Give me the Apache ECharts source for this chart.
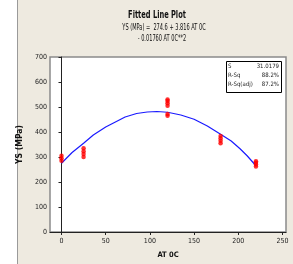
<!DOCTYPE html>
<html>
<head>
<meta charset="utf-8">
<script src="https://cdn.jsdelivr.net/npm/echarts@6/dist/echarts.min.js"></script>
<style>
  html, body { margin: 0; padding: 0; background: #fff; }
  #chart { width: 293px; height: 264px; }
</style>
</head>
<body>
<div id="chart"></div>
<script>
// observed points (AT 0C, YS MPa)
const obsX = [0, 0, 0, 25, 25, 25, 25, 120, 120, 120, 120, 120, 120, 180, 180, 180, 180, 220, 220, 220, 220];
const obsY = [285, 295, 305, 300, 312, 323, 335, 505, 515, 524, 530, 465, 472, 355, 365, 375, 384, 262, 270, 277, 283];

// fitted line
const fitX = [0, 12, 25, 36, 50, 72, 85, 97, 108, 120, 135, 150, 165, 180, 192, 202, 210, 220];
const fitY = [275, 318, 355, 388, 420, 460, 474, 480, 482, 479, 468, 451, 424, 391, 364, 333, 305, 265];

const xTicks = [0, 50, 100, 150, 200, 250];
const titleLines = ["Fitted Line Plot", "YS (MPa) =  274.6 + 3.816 AT 0C", "- 0.01760 AT 0C**2"];
const statLabels = ["S", "R-Sq", "R-Sq(adj)"];
const statValues = ["31.0179", "88.2%", "87.2%"];

const font = "'Liberation Sans Narrow', 'DejaVu Sans Condensed', sans-serif";
const chart = echarts.init(document.getElementById("chart"));

const statText = [];
statLabels.forEach((s, i) => {
  statText.push({ type: "text", left: 228, top: 63 + i * 9, z: 11,
    style: { text: s, font: "6px " + font, fill: "#222" } });
  statText.push({ type: "text", right: 14, top: 63 + i * 9, z: 11,
    style: { text: statValues[i], font: "6px " + font, fill: "#222", align: "right" } });
});

// title block, squeezed sideways to look like the narrow original font
const titleText = [
  { type: "text", x: 157, y: 15, scaleX: 0.74,
    style: { text: titleLines[0], font: "bold 10px " + font, fill: "#111", align: "center", verticalAlign: "middle" } },
  { type: "text", x: 164, y: 28, scaleX: 0.7,
    style: { text: titleLines[1], font: "8px " + font, fill: "#111", align: "center", verticalAlign: "middle" } },
  { type: "text", x: 162, y: 39, scaleX: 0.7,
    style: { text: titleLines[2], font: "8px " + font, fill: "#111", align: "center", verticalAlign: "middle" } }
];

chart.setOption({
  backgroundColor: "#EEEAE0",
  animation: false,
  graphic: [
    { type: "rect", left: 0, top: 0, shape: { width: 17, height: 264 },
      style: { fill: "#fff" }, z: -1 },
    { type: "line", shape: { x1: 17.5, y1: 0, x2: 17.5, y2: 264 },
      style: { stroke: "#9a9a9a", lineWidth: 1 } },
    ...titleText,
    { type: "rect", left: 226, top: 61, shape: { width: 55, height: 31 },
      style: { fill: "#fff", stroke: "#000", lineWidth: 1 }, z: 10 },
    ...statText
  ],
  grid: {
    left: 50, right: 7, top: 57, bottom: 28,
    show: true, backgroundColor: "#fff", borderColor: "#8a8a8a", borderWidth: 1.5
  },
  xAxis: {
    type: "value", min: -13, max: 254,
    name: "AT 0C", nameLocation: "middle", nameGap: 19,
    nameTextStyle: { fontFamily: font, fontSize: 7.5, fontWeight: "bold", color: "#111" },
    axisLine: { lineStyle: { color: "#222", width: 1 } },
    axisTick: { customValues: xTicks, length: 3, lineStyle: { color: "#222" } },
    axisLabel: { customValues: xTicks, fontFamily: font, fontSize: 7, color: "#222", margin: 6 },
    splitLine: { show: false }
  },
  yAxis: {
    type: "value", min: 0, max: 700, interval: 100,
    name: "YS (MPa)", nameLocation: "middle", nameGap: 20,
    nameTextStyle: { fontFamily: font, fontSize: 8.5, fontWeight: "bold", color: "#111" },
    axisLine: { show: true, lineStyle: { color: "#222", width: 1 } },
    axisTick: { show: true, length: 3, lineStyle: { color: "#222" } },
    axisLabel: { fontFamily: font, fontSize: 7, color: "#222", margin: 3 },
    splitLine: { show: false }
  },
  series: [
    {
      type: "line",
      data: fitX.map((x, i) => [x, fitY[i]]),
      symbol: "none",
      lineStyle: { color: "#1a1aff", width: 1.2 },
      z: 2
    },
    {
      type: "scatter",
      data: obsX.map((x, i) => [x, obsY[i]]),
      symbol: "circle",
      symbolSize: 4.5,
      itemStyle: { color: "#ff0000" },
      z: 3
    }
  ]
});
</script>
</body>
</html>
